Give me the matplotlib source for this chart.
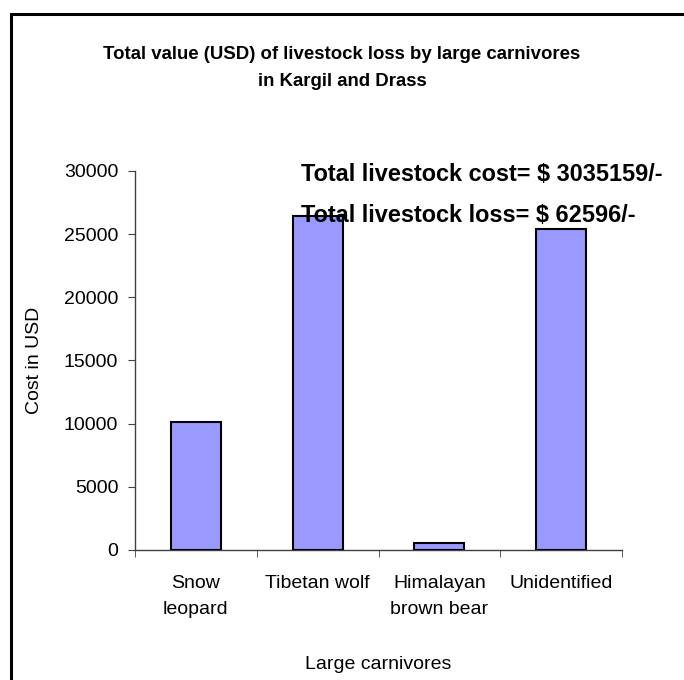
import matplotlib.pyplot as plt
import matplotlib.patches as patches
import numpy as np

plt.rcParams['font.family'] = ['Liberation Sans Narrow', 'Liberation Sans', 'DejaVu Sans']

categories = ["Snow\nleopard", "Tibetan wolf", "Himalayan\nbrown bear", "Unidentified"]
cost_usd = [10150, 26450, 560, 25436]
yticks = [0, 5000, 10000, 15000, 20000, 25000, 30000]

title = "Total value (USD) of livestock loss by large carnivores\nin Kargil and Drass"
note_cost = "Total livestock cost= $ 3035159/-"
note_loss = "Total livestock loss= $ 62596/-"

fig = plt.figure(figsize=(6.84, 6.80), dpi=100)
ax = fig.add_axes([0.1974, 0.1912, 0.712, 0.5574])

x = np.arange(len(categories))
ax.bar(x, cost_usd, width=0.41, color="#9999FF", edgecolor="black", linewidth=1.5, zorder=3)

ax.set_xlim(-0.5, len(categories) - 0.5)
ax.set_ylim(0, 30000)
ax.set_yticks(yticks)
ax.set_yticklabels([str(v) for v in yticks], fontsize=14)
ax.set_xticks(x)
ax.set_xticklabels(categories, fontsize=14, linespacing=1.7)
ax.set_xticks(np.arange(-0.5, len(categories)), minor=True)
ax.tick_params(axis="x", which="major", length=0, pad=18)
ax.tick_params(axis="x", which="minor", length=5, direction="out", color="#404040")
ax.tick_params(axis="y", length=5, direction="out", color="#404040", pad=7)

for side in ["top", "right"]:
    ax.spines[side].set_visible(False)
for side in ["left", "bottom"]:
    ax.spines[side].set_color("#404040")
    ax.spines[side].set_linewidth(1.0)

ax.set_ylabel("Cost in USD", fontsize=14, labelpad=15)
ax.set_xlabel("Large carnivores", fontsize=14, labelpad=27)

fig.text(0.5, 0.9, title, ha="center", va="center", fontsize=13.4, fontweight="bold",
         linespacing=1.75)
fig.text(0.44, 0.743, note_cost, ha="left", va="center", fontsize=16.9, fontweight="bold")
fig.text(0.44, 0.683, note_loss, ha="left", va="center", fontsize=16.9, fontweight="bold")

# outer frame, partly cut by the image edge
frame = patches.Rectangle((0.0155, -0.1), 1.2, 0.979 + 0.1, transform=fig.transFigure,
                          fill=False, linewidth=2.2, edgecolor="black", clip_on=False)
fig.patches.append(frame)

fig.savefig("out.png", dpi=100)
